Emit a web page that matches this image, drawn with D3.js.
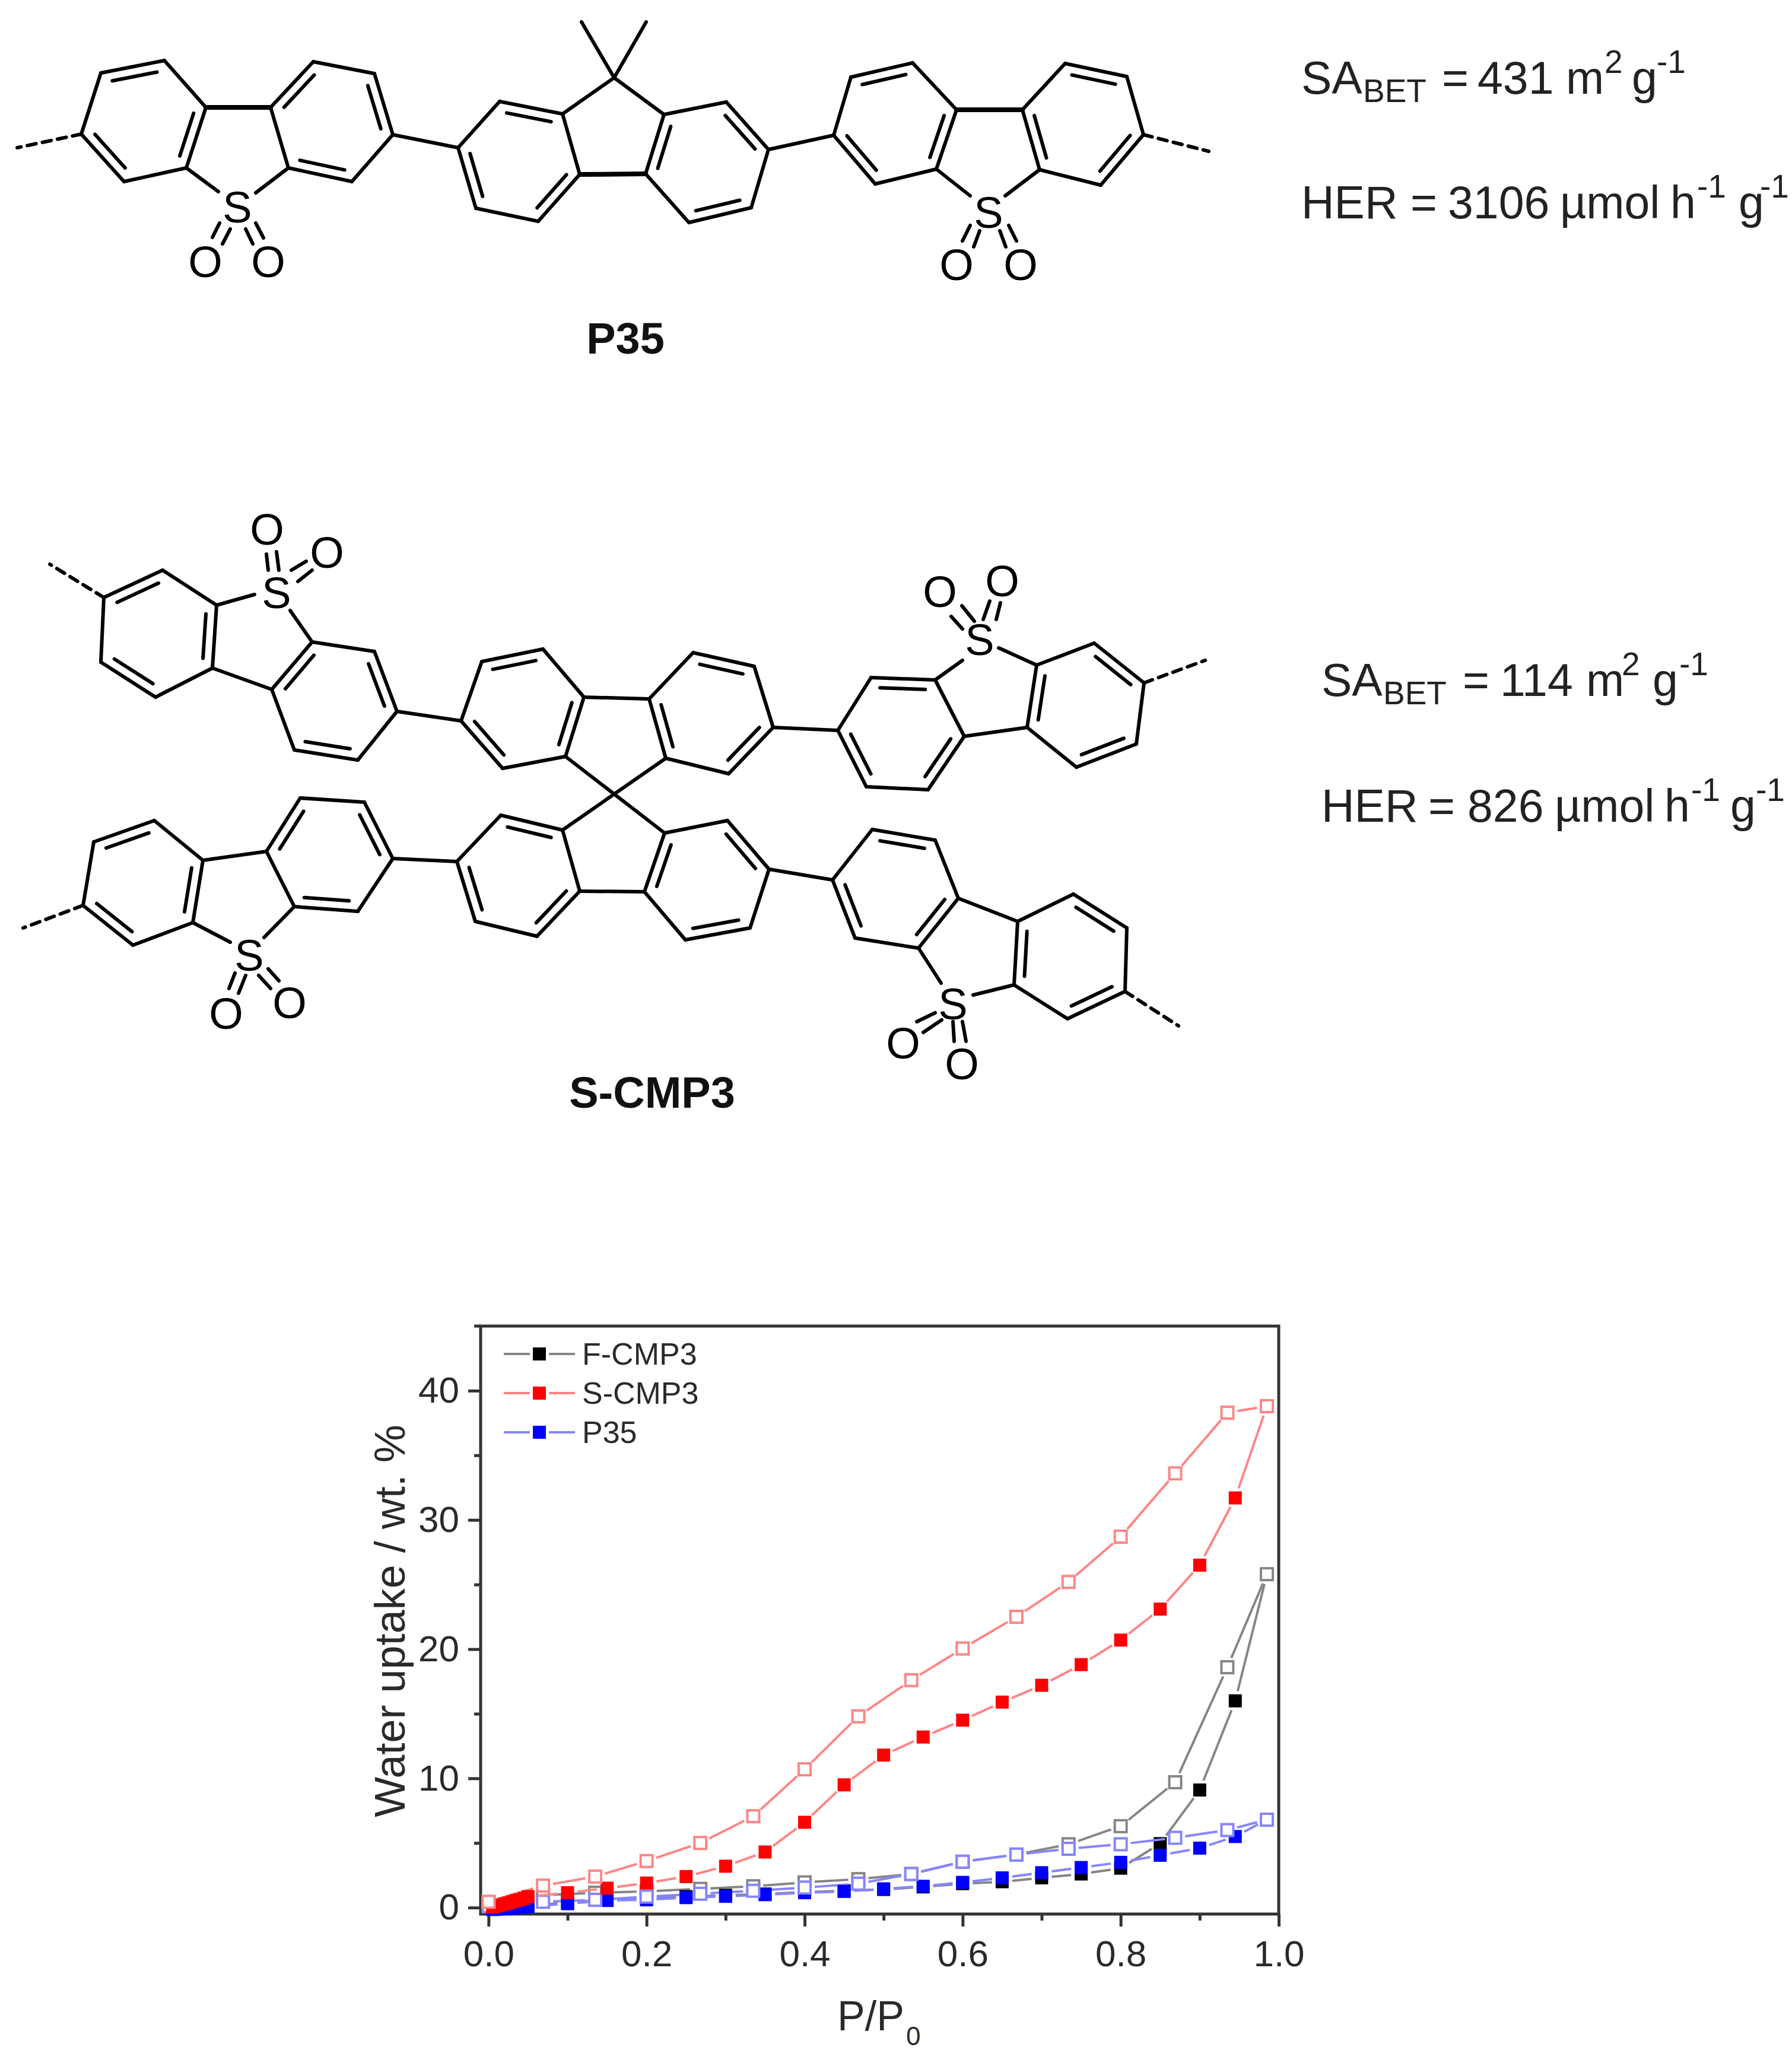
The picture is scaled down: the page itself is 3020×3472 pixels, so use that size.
<!DOCTYPE html>
<html>
<head>
<meta charset="utf-8">
<script src="https://cdn.jsdelivr.net/npm/d3@7"></script>
<style>
	html, body { margin: 0; padding: 0; background: #fff; }
	svg { display: block; }
	text { font-family: "Liberation Sans", Arial, sans-serif; }
</style>
</head>
<body>
<div id="chart"></div>
<script>
//Isotherm data
var ads_x = [0.005, 0.01, 0.015, 0.02, 0.025, 0.03, 0.035, 0.04, 0.045, 0.05, 0.1, 0.15, 0.2, 0.25, 0.3, 0.35, 0.4, 0.45, 0.5, 0.55, 0.6, 0.65, 0.7, 0.75, 0.8, 0.85, 0.9, 0.945];
var des_x = [0.985, 0.935, 0.869, 0.8, 0.734, 0.668, 0.6, 0.535, 0.468, 0.4, 0.335, 0.268, 0.2, 0.135, 0.069, 0.0];

var fcmp3_ads = [-0.1, -0.08, -0.05, -0.02, 0, 0.02, 0.05, 0.08, 0.1, 0.12, 0.4, 0.6, 0.7, 0.85, 0.95, 1.05, 1.2, 1.3, 1.4, 1.6, 1.85, 2.0, 2.3, 2.6, 3.05, 4.95, 9.1, 16.0];
var fcmp3_des = [25.8, 18.6, 9.7, 6.3, 4.9, 4.1, 3.55, 2.6, 2.2, 1.95, 1.65, 1.45, 1.25, 1.15, 0.95, 0.4];
var scmp3_ads = [0.05, 0.12, 0.2, 0.28, 0.35, 0.45, 0.55, 0.62, 0.72, 0.85, 1.15, 1.5, 1.9, 2.4, 3.2, 4.3, 6.6, 9.5, 11.8, 13.2, 14.5, 15.9, 17.2, 18.8, 20.7, 23.1, 26.5, 31.7];
var scmp3_des = [38.8, 38.3, 33.6, 28.7, 25.2, 22.5, 20.05, 17.6, 14.8, 10.7, 7.07, 5.0, 3.6, 2.4, 1.7, 0.45];
var p35_ads = [-0.15, -0.12, -0.1, -0.08, -0.05, -0.03, 0, 0.02, 0.05, 0.08, 0.3, 0.55, 0.6, 0.77, 0.87, 1.0, 1.15, 1.25, 1.45, 1.65, 1.95, 2.3, 2.7, 3.1, 3.5, 4.05, 4.6, 5.5];
var p35_des = [6.8, 6.0, 5.4, 4.9, 4.55, 4.1, 3.55, 2.6, 1.85, 1.55, 1.3, 1.07, 0.85, 0.6, 0.45, 0.1];

var y_major = [0, 10, 20, 30, 40];
var y_minor = [5, 15, 25, 35];
var x_major = [0, 0.2, 0.4, 0.6, 0.8, 1.0];
var x_minor = [0.1, 0.3, 0.5, 0.7, 0.9];

var legend_names = ["F-CMP3", "S-CMP3", "P35"];
var dark_colors = ["#000000", "#ff0000", "#0000ff"];
var light_colors = ["#858585", "#ff8585", "#8585ff"];

//Structures: rings are 6 vertices, dbl = index of the edges carrying a double bond
var p35_rings = [
	{pts: [[137,226],[170,123],[277,102],[347,181],[314,283],[209,306]], dbl: [1,3,5]},
	{pts: [[456,181],[528,104],[631,124],[662,227],[593,306],[486,283]], dbl: [0,2,4]},
	{pts: [[772,249],[842,171],[948,192],[977,294],[907,373],[802,351]], dbl: [1,3,5]},
	{pts: [[1119,193],[1224,172],[1295,252],[1266,350],[1161,375],[1088,293]], dbl: [1,3,5]},
	{pts: [[1405,228],[1434,130],[1538,106],[1612,185],[1578,285],[1475,310]], dbl: [1,3,5]},
	{pts: [[1723,185],[1795,107],[1899,129],[1927,227],[1855,312],[1752,286]], dbl: [1,3,5]}
];
var p35_bonds = [
	[[662,227],[772,249]], [[1295,252],[1405,228]],
	[[948,192],[1035,131]], [[1119,193],[1035,131]], [[1035,131],[980,37]], [[1035,131],[1089,37]],
	[[314,283],[368,323]], [[486,283],[431,325]],
	[[1578,285],[1635,330]], [[1752,286],[1694,330]],
	[[370,376],[358,400]], [[388,386],[375,411]], [[414,386],[426,411]], [[431,376],[444,401]],
	[[1635,380],[1622,406]], [[1651,389],[1641,416]], [[1685,389],[1695,416]], [[1700,380],[1713,406]]
];
var p35_thick = [[[347,181],[456,181]], [[977,294],[1088,293]], [[1612,185],[1723,185]]];
var p35_dashed = [[[137,226],[29,249]], [[1927,227],[2037,255]]];
var p35_atoms = [["S",400,348],["O",346,440],["O",452,440],["S",1666,357],["O",1612,445],["O",1720,445]];

var scmp3_rings = [
	{pts: [[175,1007],[274,961],[365,1020],[358,1126],[262,1175],[170,1116]], dbl: [0,2,4]},
	{pts: [[526,1082],[631,1098],[669,1199],[603,1281],[496,1264],[458,1162]], dbl: [1,3,5]},
	{pts: [[777,1215],[812,1115],[915,1094],[984,1175],[953,1275],[847,1295]], dbl: [1,3,5]},
	{pts: [[770,1452],[844,1374],[948,1399],[977,1502],[905,1578],[801,1553]], dbl: [1,3,5]},
	{pts: [[140,1526],[158,1419],[260,1383],[342,1450],[325,1555],[224,1593]], dbl: [1,3,5]},
	{pts: [[449,1435],[506,1345],[614,1352],[662,1447],[603,1536],[496,1528]], dbl: [0,2,4]},
	{pts: [[1094,1178],[1168,1100],[1271,1123],[1303,1226],[1228,1304],[1122,1278]], dbl: [1,3,5]},
	{pts: [[1120,1404],[1226,1383],[1296,1465],[1264,1564],[1155,1584],[1086,1503]], dbl: [1,3,5]},
	{pts: [[1412,1231],[1468,1142],[1576,1146],[1625,1241],[1564,1331],[1460,1326]], dbl: [1,3,5]},
	{pts: [[1731,1226],[1747,1121],[1844,1084],[1928,1151],[1915,1254],[1814,1293]], dbl: [0,2,4]},
	{pts: [[1403,1483],[1470,1398],[1576,1416],[1615,1514],[1548,1598],[1441,1581]], dbl: [1,3,5]},
	{pts: [[1715,1553],[1809,1507],[1899,1564],[1896,1671],[1799,1717],[1709,1660]], dbl: [1,3,5]}
];
var scmp3_bonds = [
	[[358,1126],[458,1162]], [[342,1450],[449,1435]], [[1625,1241],[1731,1226]], [[1615,1514],[1715,1553]],
	[[669,1199],[777,1215]], [[662,1447],[770,1452]], [[1303,1226],[1412,1231]], [[1296,1465],[1403,1483]],
	[[984,1175],[1094,1178]], [[977,1502],[1086,1503]],
	[[953,1275],[1120,1404]], [[948,1399],[1122,1278]],
	[[365,1020],[429,1002]], [[526,1082],[489,1029]],
	[[325,1555],[388,1588]], [[496,1528],[445,1580]],
	[[1576,1146],[1622,1113]], [[1747,1121],[1683,1092]],
	[[1548,1598],[1586,1657]], [[1709,1660],[1640,1677]],
	[[449,934],[452,961]], [[466,930],[470,961]], [[491,961],[516,946]], [[502,980],[526,961]],
	[[396,1640],[386,1666]], [[414,1644],[402,1674]], [[436,1644],[456,1666]], [[452,1633],[470,1653]],
	[[1603,1039],[1622,1060]], [[1621,1021],[1642,1047]], [[1657,1044],[1668,1013]], [[1679,1044],[1686,1016]],
	[[1576,1707],[1545,1722]], [[1587,1719],[1556,1740]], [[1606,1722],[1608,1755]], [[1622,1722],[1628,1755]]
];
var scmp3_dashed = [[[175,1007],[84,951]], [[140,1526],[39,1564]], [[1928,1151],[2031,1113]], [[1896,1671],[1986,1729]]];
var scmp3_atoms = [
	["S",466,998],["O",450,891],["O",551,930],
	["S",420,1609],["O",381,1707],["O",488,1689],
	["S",1651,1077],["O",1584,996],["O",1689,978],
	["S",1606,1691],["O",1522,1757],["O",1621,1792]
];

//Text runs: text, x, baseline, font size
var p35_text = [
	["SA",2193,158,77],["BET",2297,172,55],["=",2430,158,77],["431",2490,158,77],["m",2639,158,77],["2",2704,123,55],["g",2750,158,77],["-1",2792,123,55],
	["HER",2193,368,77],["=",2377,368,77],["3106",2440,368,77],["µmol",2629,368,77],["h",2815,368,77],["-1",2860,333,55],["g",2930,368,77],["-1",2966,333,55]
];
var scmp3_text = [
	["SA",2227,1173,77],["BET",2331,1187,55],["=",2465,1173,77],["114",2528,1173,77],["m",2673,1173,77],["2",2733,1138,55],["g",2785,1173,77],["-1",2830,1138,55],
	["HER",2227,1385,77],["=",2407,1385,77],["826",2473,1385,77],["µmol",2620,1385,77],["h",2805,1385,77],["-1",2850,1350,55],["g",2916,1385,77],["-1",2959,1350,55]
];

var svg = d3.select("#chart").append("svg")
	.attr("width", 3020)
	.attr("height", 3472)
	.attr("viewBox", "0 0 3020 3472");

function draw_segments(g, segs, width, dash) {
	g.selectAll(null).data(segs).enter().append("line")
		.attr("x1", function(d) { return d[0][0]; })
		.attr("y1", function(d) { return d[0][1]; })
		.attr("x2", function(d) { return d[1][0]; })
		.attr("y2", function(d) { return d[1][1]; })
		.attr("stroke", "#000")
		.attr("stroke-width", width)
		.attr("stroke-linecap", "round")
		.attr("stroke-dasharray", dash);
}

function draw_structure(rings, bonds, thick, dashed, atoms) {
	var g = svg.append("g");
	var segs = [];
	rings.forEach(function(ring) {
		var cx = d3.mean(ring.pts, function(p) { return p[0]; });
		var cy = d3.mean(ring.pts, function(p) { return p[1]; });
		var inner = ring.pts.map(function(p) {
			return [p[0] + (cx - p[0]) * 0.18, p[1] + (cy - p[1]) * 0.18];
		});
		ring.pts.forEach(function(p, i) {
			segs.push([p, ring.pts[(i + 1) % 6]]);
		});
		//La linea interior del doble enlace
		ring.dbl.forEach(function(i) {
			var a = inner[i], b = inner[(i + 1) % 6];
			segs.push([[a[0] + (b[0] - a[0]) * 0.07, a[1] + (b[1] - a[1]) * 0.07],
					   [b[0] + (a[0] - b[0]) * 0.07, b[1] + (a[1] - b[1]) * 0.07]]);
		});
	});
	draw_segments(g, segs.concat(bonds), 6, null);
	draw_segments(g, thick, 8, null);
	draw_segments(g, dashed, 6, "15 11");
	g.selectAll(null).data(atoms).enter().append("text")
		.attr("x", function(d) { return d[1]; })
		.attr("y", function(d) { return d[2]; })
		.attr("dy", "0.36em")
		.attr("text-anchor", "middle")
		.attr("font-size", 74)
		.attr("fill", "#000")
		.text(function(d) { return d[0]; });
}

function draw_runs(runs, color) {
	svg.append("g").selectAll("text").data(runs).enter().append("text")
		.attr("x", function(d) { return d[1]; })
		.attr("y", function(d) { return d[2]; })
		.attr("font-size", function(d) { return d[3]; })
		.attr("fill", color)
		.text(function(d) { return d[0]; });
}

draw_structure(p35_rings, p35_bonds, p35_thick, p35_dashed, p35_atoms);
draw_structure(scmp3_rings, scmp3_bonds, [], scmp3_dashed, scmp3_atoms);
draw_runs(p35_text, "#222");
draw_runs(scmp3_text, "#222");

svg.append("text").attr("x", 1054).attr("y", 596).attr("text-anchor", "middle")
	.attr("font-size", 74).attr("font-weight", "bold").attr("fill", "#111").text("P35");
svg.append("text").attr("x", 1099).attr("y", 1867).attr("text-anchor", "middle")
	.attr("font-size", 74).attr("font-weight", "bold").attr("fill", "#111").text("S-CMP3");

//Plot
var x = d3.scaleLinear().domain([-0.01, 1]).range([810, 2155]);
var y = d3.scaleLinear().domain([-0.5, 45]).range([3226, 2235]);

var plot = svg.append("g");
plot.append("rect")
	.attr("x", x(-0.01)).attr("y", y(45))
	.attr("width", x(1) - x(-0.01)).attr("height", y(-0.5) - y(45))
	.attr("fill", "none").attr("stroke", "#333").attr("stroke-width", 5);
//La linea superior sobresale un poco a la izquierda del eje
plot.append("line")
	.attr("x1", x(-0.01) - 11).attr("x2", x(-0.01)).attr("y1", y(45)).attr("y2", y(45))
	.attr("stroke", "#333").attr("stroke-width", 5);

function add_axis(axis, dx, dy) {
	var a = plot.append("g").attr("transform", "translate(" + dx + "," + dy + ")").call(axis);
	a.select(".domain").remove();
	a.selectAll("line").attr("stroke", "#333").attr("stroke-width", 5);
	a.selectAll("text").attr("font-size", 62).attr("fill", "#2a2a2a")
		.style("font-family", "'Liberation Sans', Arial, sans-serif");
	return a;
}

add_axis(d3.axisBottom(x).tickValues(x_major).tickSize(21).tickPadding(23).tickFormat(d3.format(".1f")), 0, y(-0.5));
add_axis(d3.axisBottom(x).tickValues(x_minor).tickSize(11).tickFormat(""), 0, y(-0.5));
add_axis(d3.axisLeft(y).tickValues(y_major).tickSize(21).tickPadding(15).tickFormat(d3.format("d")), x(-0.01), 0);
add_axis(d3.axisLeft(y).tickValues(y_minor).tickSize(11).tickFormat(""), x(-0.01), 0);

svg.append("text").attr("x", 1411).attr("y", 3422)
	.attr("font-size", 70).attr("fill", "#2a2a2a").text("P/P");
svg.append("text").attr("x", 1527).attr("y", 3447)
	.attr("font-size", 44).attr("fill", "#2a2a2a").text("0");
svg.append("text")
	.attr("transform", "translate(682,2732) rotate(-90)")
	.attr("text-anchor", "middle")
	.attr("font-size", 72).attr("fill", "#2a2a2a")
	.text("Water uptake / wt. %");

var FILLED = 22, OPEN = 20, GAP = 17;

function to_points(xs, ys) {
	return xs.map(function(v, i) { return [x(v), y(ys[i])]; });
}

//Segmentos recortados para dejar el hueco junto a cada simbolo
function gapped(points) {
	var segs = [];
	d3.pairs(points).forEach(function(p) {
		var dx = p[1][0] - p[0][0], dy = p[1][1] - p[0][1];
		var len = Math.sqrt(dx * dx + dy * dy);
		if (len <= GAP * 2)
			return;
		var ux = dx / len * GAP, uy = dy / len * GAP;
		segs.push([[p[0][0] + ux, p[0][1] + uy], [p[1][0] - ux, p[1][1] - uy]]);
	});
	return segs;
}

function draw_series(ads, des, dark, light) {
	var g = plot.append("g");
	var ads_pts = to_points(ads_x, ads);
	var des_pts = to_points(des_x, des);
	g.selectAll(null).data(gapped(ads_pts.concat(des_pts))).enter().append("line")
		.attr("x1", function(d) { return d[0][0]; })
		.attr("y1", function(d) { return d[0][1]; })
		.attr("x2", function(d) { return d[1][0]; })
		.attr("y2", function(d) { return d[1][1]; })
		.attr("stroke", light).attr("stroke-width", 4);
	g.selectAll(null).data(ads_pts).enter().append("rect")
		.attr("x", function(d) { return d[0] - FILLED / 2; })
		.attr("y", function(d) { return d[1] - FILLED / 2; })
		.attr("width", FILLED).attr("height", FILLED)
		.attr("fill", dark);
	g.selectAll(null).data(des_pts).enter().append("rect")
		.attr("x", function(d) { return d[0] - OPEN / 2; })
		.attr("y", function(d) { return d[1] - OPEN / 2; })
		.attr("width", OPEN).attr("height", OPEN)
		.attr("fill", "#fff").attr("stroke", light).attr("stroke-width", 4);
}

draw_series(fcmp3_ads, fcmp3_des, dark_colors[0], light_colors[0]);
draw_series(p35_ads, p35_des, dark_colors[2], light_colors[2]);
draw_series(scmp3_ads, scmp3_des, dark_colors[1], light_colors[1]);

//Leyenda
var legend = plot.append("g");
legend_names.forEach(function(name, i) {
	var ly = 2282 + i * 66;
	[[849, 893], [925, 969]].forEach(function(s) {
		legend.append("line").attr("x1", s[0]).attr("x2", s[1]).attr("y1", ly).attr("y2", ly)
			.attr("stroke", light_colors[i]).attr("stroke-width", 4);
	});
	legend.append("rect").attr("x", 909 - FILLED / 2).attr("y", ly - FILLED / 2)
		.attr("width", FILLED).attr("height", FILLED).attr("fill", dark_colors[i]);
	legend.append("text").attr("x", 981).attr("y", ly + 18)
		.attr("font-size", 52).attr("fill", "#2a2a2a").text(name);
});
</script>
</body>
</html>
